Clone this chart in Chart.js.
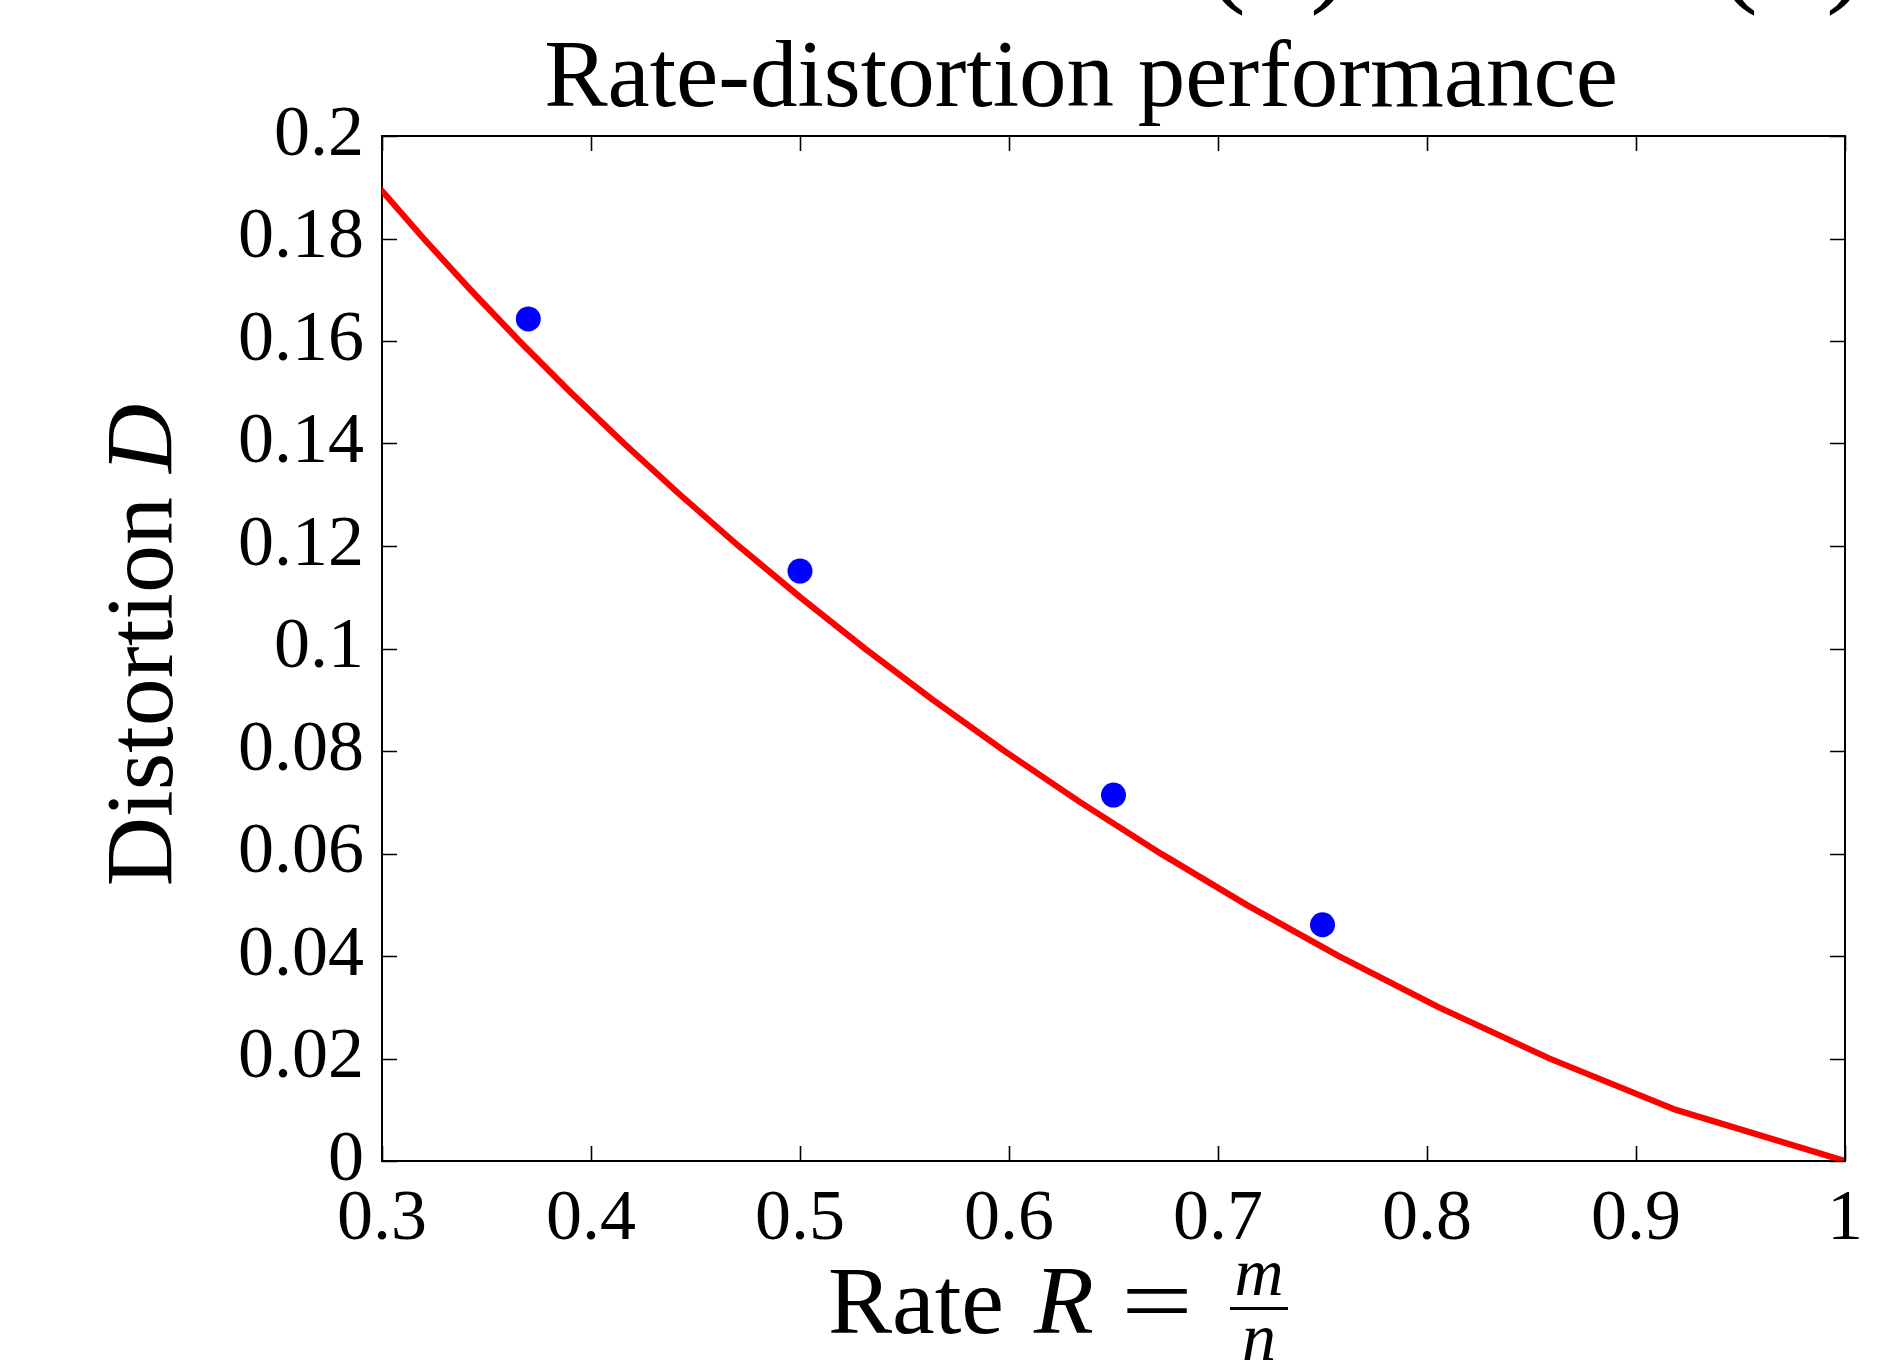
<!DOCTYPE html>
<html>
<head>
<meta charset="utf-8">
<script src="https://cdn.jsdelivr.net/npm/chart.js@4.4.1/dist/chart.umd.min.js"></script>
<style>
html,body{margin:0;padding:0;background:#fff;}
#wrap{width:1900px;height:1370px;position:relative;}
</style>
</head>
<body>
<div id="wrap"><canvas id="c" width="1900" height="1370"></canvas></div>
<script>
// Rate-distortion curve (red line): distortion levels and the rate read at each
const curveD = [0, 0.01, 0.02, 0.03, 0.04, 0.05, 0.06, 0.07, 0.08, 0.09, 0.10, 0.11, 0.12, 0.13, 0.14, 0.15, 0.16, 0.17, 0.18, 0.19, 0.20];
const curveR = [1.0, 0.919, 0.8586, 0.8056, 0.7577, 0.7136, 0.6726, 0.6341, 0.5978, 0.5635, 0.531, 0.5001, 0.4706, 0.4426, 0.4158, 0.3902, 0.3657, 0.3423, 0.3199, 0.2985, 0.2781];
// Measured points (blue dots)
const pointR = [0.37, 0.50, 0.65, 0.75];
const pointD = [0.1643, 0.1151, 0.0714, 0.0461];
// Axes
const xTickValues = [0.3, 0.4, 0.5, 0.6, 0.7, 0.8, 0.9, 1.0];
const yTickValues = [0, 0.02, 0.04, 0.06, 0.08, 0.1, 0.12, 0.14, 0.16, 0.18, 0.2];
const titleText = 'Rate-distortion performance';
const yLabelText = 'Distortion';
const yLabelVar = 'D';
const xLabelText = 'Rate';
const xLabelVar = 'R';
const fracNum = 'm';
const fracDen = 'n';

const SERIF = '"Liberation Serif", "DejaVu Serif", serif';
const fmt = v => String(Number(Number(v).toFixed(2)));

const decorPlugin = {
  id: 'decor',
  afterDraw(chart) {
    const ctx = chart.ctx;
    const a = chart.chartArea;
    const xs = chart.scales.x, ys = chart.scales.y;
    ctx.save();
    // frame top & right
    ctx.strokeStyle = '#000';
    ctx.lineWidth = 2;
    ctx.beginPath();
    ctx.moveTo(a.left, a.top); ctx.lineTo(a.right, a.top); ctx.lineTo(a.right, a.bottom);
    ctx.stroke();
    // inward ticks on four sides
    ctx.lineWidth = 1.6;
    const tl = 15;
    ctx.beginPath();
    xTickValues.forEach(v => {
      const px = Math.round(xs.getPixelForValue(v)) + 0.5;
      ctx.moveTo(px, a.bottom); ctx.lineTo(px, a.bottom - tl);
      ctx.moveTo(px, a.top); ctx.lineTo(px, a.top + tl);
    });
    yTickValues.forEach(v => {
      const py = Math.round(ys.getPixelForValue(v)) + 0.5;
      ctx.moveTo(a.left, py); ctx.lineTo(a.left + tl, py);
      ctx.moveTo(a.right, py); ctx.lineTo(a.right - tl, py);
    });
    ctx.stroke();

    ctx.fillStyle = '#000';
    // title
    ctx.font = '95px ' + SERIF;
    ctx.textAlign = 'center';
    ctx.textBaseline = 'alphabetic';
    ctx.fillText(titleText, 1081, 106);

    // y label (rotated)
    ctx.save();
    ctx.translate(172, 645);
    ctx.rotate(-Math.PI / 2);
    ctx.font = '96px ' + SERIF;
    const w1 = ctx.measureText(yLabelText + ' ').width;
    ctx.font = 'italic 96px ' + SERIF;
    const w2 = ctx.measureText(yLabelVar).width;
    const start = -(w1 + w2) / 2;
    ctx.textAlign = 'left';
    ctx.font = '96px ' + SERIF;
    ctx.fillText(yLabelText + ' ', start, 0);
    ctx.font = 'italic 96px ' + SERIF;
    ctx.fillText(yLabelVar, start + w1, 0);
    ctx.restore();

    // x label: Rate R = m/n
    ctx.textAlign = 'left';
    const base = 1333;
    ctx.font = '96px ' + SERIF;
    ctx.fillText(xLabelText, 828, base);
    ctx.font = 'italic 98px ' + SERIF;
    ctx.fillText(xLabelVar, 1034, base);
    // wide equals sign
    ctx.save();
    ctx.font = '96px ' + SERIF;
    const eqW = ctx.measureText('=').width;
    ctx.translate(1157, base);
    ctx.scale(72 / eqW, 1);
    ctx.textAlign = 'center';
    ctx.fillText('=', 0, 0);
    ctx.restore();
    // fraction
    const fx0 = 1230, fx1 = 1288, fc = (fx0 + fx1) / 2;
    ctx.fillRect(fx0, 1307, fx1 - fx0, 3);
    ctx.font = 'italic 68px ' + SERIF;
    ctx.textAlign = 'center';
    ctx.fillText(fracNum, fc, 1295);
    ctx.fillText(fracDen, fc, 1360);

    // cut-off parentheses at the top edge
    ctx.font = '120px ' + SERIF;
    ctx.textAlign = 'center';
    ctx.fillText('(', 1226, -10);
    ctx.fillText(')', 1330, -10);
    ctx.fillText('(', 1738, -10);
    ctx.fillText(')', 1846, -10);
    ctx.restore();
  }
};

const curveData = curveD.map((d, i) => ({x: curveR[i], y: d}));
const pointData = pointD.map((d, i) => ({x: pointR[i], y: d}));

new Chart(document.getElementById('c'), {
  type: 'scatter',
  data: {
    datasets: [
      {
        label: 'Measured',
        data: pointData,
        backgroundColor: '#0000ff',
        borderWidth: 0,
        pointRadius: 12.5,
        pointHoverRadius: 12.5,
        order: 0
      },
      {
        label: 'Rate-distortion bound',
        data: curveData,
        showLine: true,
        borderColor: '#ff0000',
        borderWidth: 6.2,
        pointRadius: 0,
        tension: 0,
        fill: false,
        order: 1
      }
    ]
  },
  options: {
    responsive: false,
    animation: false,
    devicePixelRatio: 1,
    layout: { padding: { top: 136, right: 55, left: 0, bottom: 0 } },
    plugins: {
      legend: { display: false },
      title: { display: false },
      tooltip: { enabled: false }
    },
    events: [],
    scales: {
      x: {
        type: 'linear',
        min: 0.3, max: 1,
        afterBuildTicks: s => { s.ticks = xTickValues.map(v => ({value: v})); },
        afterFit: s => { s.height = 209; },
        grid: { display: false, drawTicks: false },
        border: { display: true, color: '#000', width: 2 },
        ticks: {
          color: '#000',
          padding: 16,
          maxRotation: 0,
          autoSkip: false,
          font: { family: SERIF, size: 72 },
          callback: v => fmt(v)
        }
      },
      y: {
        type: 'linear',
        min: 0, max: 0.2,
        afterBuildTicks: s => { s.ticks = yTickValues.map(v => ({value: v})); },
        afterFit: s => { s.width = 382; },
        grid: { display: false, drawTicks: false },
        border: { display: true, color: '#000', width: 2 },
        ticks: {
          color: '#000',
          padding: 18,
          autoSkip: false,
          font: { family: SERIF, size: 72 },
          callback: v => fmt(v)
        }
      }
    }
  },
  plugins: [decorPlugin]
});
</script>
</body>
</html>
